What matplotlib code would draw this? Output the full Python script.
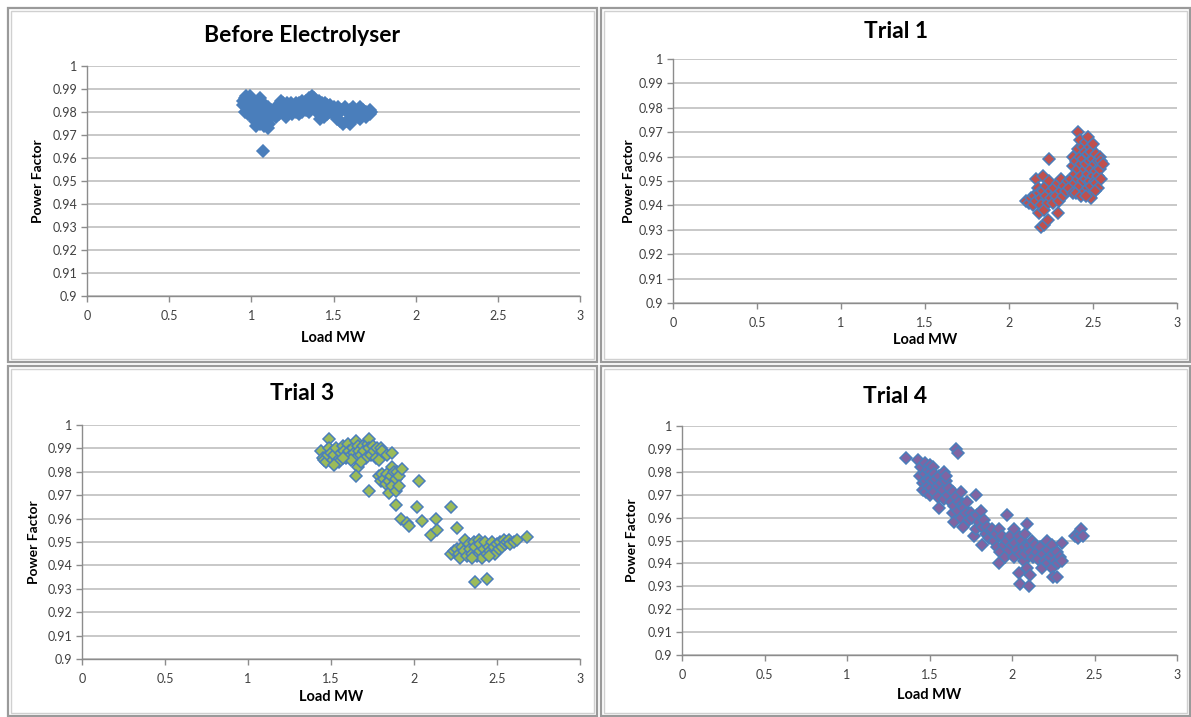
# Power factor vs load for the four electrolyser runs (2x2 panel screenshot)

import matplotlib.pyplot as plt
from matplotlib.patches import Rectangle

W, H = 1191, 717

# ---- data (Load MW, Power Factor) ----
before_x = [0.95, 0.96, 0.97, 0.98, 0.99, 1.00, 0.95, 0.97, 0.99, 0.96, 0.98, 1.00, 1.01, 1.02, 0.97,
            1.05, 1.06, 1.04,
            1.01, 1.02, 1.03, 1.04, 1.05, 1.06, 1.07, 1.08, 1.09, 1.10, 1.11, 1.12, 1.03, 1.05, 1.07,
            1.09, 1.10, 1.12, 1.14, 1.15, 1.16, 1.17, 1.18, 1.19, 1.20, 1.21, 1.22, 1.23, 1.24, 1.25,
            1.26, 1.27, 1.28, 1.29, 1.30, 1.31, 1.32, 1.33, 1.34, 1.35, 1.36, 1.37, 1.38, 1.39, 1.40,
            1.41, 1.42, 1.43, 1.44, 1.45, 1.46, 1.47, 1.48, 1.49, 1.50, 1.52, 1.53, 1.55, 1.57, 1.58,
            1.60, 1.62, 1.64, 1.66, 1.68, 1.70, 1.72, 1.73,
            1.15, 1.17, 1.19, 1.21, 1.23, 1.25, 1.27, 1.29, 1.31, 1.33, 1.35, 1.37, 1.39, 1.41, 1.42,
            1.44, 1.46, 1.48, 1.50, 1.52, 1.54, 1.56, 1.58, 1.60, 1.62, 1.64, 1.66, 1.68, 1.70, 1.72,
            1.07]
before_y = [0.985, 0.986, 0.987, 0.986, 0.987, 0.986, 0.983, 0.982, 0.983, 0.980, 0.979, 0.981, 0.984, 0.982, 0.984,
            0.986, 0.985, 0.984,
            0.978, 0.976, 0.974, 0.977, 0.975, 0.978, 0.976, 0.974, 0.977, 0.973, 0.975, 0.978, 0.980, 0.979, 0.981,
            0.980, 0.982, 0.981, 0.979, 0.981, 0.983, 0.982, 0.985, 0.984, 0.983, 0.981, 0.984, 0.982, 0.984, 0.983,
            0.981, 0.984, 0.982, 0.984, 0.983, 0.985, 0.983, 0.985, 0.984, 0.986, 0.985, 0.987, 0.986, 0.985, 0.984,
            0.985, 0.983, 0.984, 0.982, 0.984, 0.983, 0.982, 0.983, 0.981, 0.982, 0.980, 0.982, 0.981, 0.982, 0.980,
            0.981, 0.982, 0.980, 0.982, 0.981, 0.980, 0.981, 0.980,
            0.978, 0.979, 0.980, 0.978, 0.980, 0.979, 0.980, 0.979, 0.980, 0.981, 0.980, 0.982, 0.981, 0.979, 0.977,
            0.978, 0.979, 0.980, 0.979, 0.977, 0.976, 0.975, 0.976, 0.975, 0.977, 0.978, 0.977, 0.979, 0.978, 0.979,
            0.963]

trial1_x = [2.10, 2.12, 2.13, 2.14, 2.15, 2.16, 2.16, 2.17, 2.18, 2.18, 2.19, 2.19, 2.20, 2.20, 2.21, 2.22,
            2.22, 2.23, 2.24, 2.24, 2.25, 2.25, 2.26, 2.27, 2.28, 2.29, 2.29, 2.30, 2.31, 2.31, 2.32, 2.33,
            2.34, 2.35, 2.36, 2.37, 2.38,
            2.19, 2.21, 2.23,
            2.38, 2.38, 2.39, 2.39, 2.40, 2.40, 2.41, 2.41, 2.41, 2.41, 2.42, 2.42, 2.42, 2.43, 2.43, 2.43,
            2.44, 2.44, 2.44, 2.45, 2.45, 2.45, 2.46, 2.46, 2.46, 2.47, 2.47, 2.47, 2.47, 2.48, 2.48, 2.48,
            2.48, 2.49, 2.49, 2.49, 2.50, 2.50, 2.50, 2.51, 2.51, 2.52, 2.52, 2.52, 2.53, 2.53, 2.54, 2.54,
            2.55, 2.55, 2.56, 2.53, 2.51, 2.49, 2.46]
trial1_y = [0.942, 0.941, 0.943, 0.940, 0.944, 0.942, 0.951, 0.947, 0.945, 0.937, 0.943, 0.940, 0.952, 0.946, 0.938, 0.944,
            0.948, 0.941, 0.950, 0.959, 0.946, 0.943, 0.941, 0.947, 0.944, 0.949, 0.937, 0.942, 0.946, 0.951, 0.944, 0.948,
            0.946, 0.950, 0.947, 0.951, 0.945,
            0.931, 0.932, 0.934,
            0.956, 0.960, 0.953, 0.949, 0.958, 0.945, 0.970, 0.963, 0.955, 0.951, 0.967, 0.960, 0.948, 0.957, 0.952, 0.944,
            0.964, 0.959, 0.950, 0.962, 0.955, 0.946, 0.966, 0.957, 0.951, 0.968, 0.961, 0.953, 0.947, 0.964, 0.958, 0.950,
            0.944, 0.962, 0.955, 0.948, 0.965, 0.959, 0.952, 0.957, 0.950, 0.961, 0.954, 0.949, 0.958, 0.952, 0.960, 0.955,
            0.958, 0.951, 0.957, 0.947, 0.946, 0.943, 0.944]

trial3_x = [1.44, 1.45, 1.46, 1.47, 1.48, 1.49, 1.49, 1.50, 1.51, 1.52, 1.53, 1.54, 1.55, 1.56, 1.57, 1.58,
            1.59, 1.60, 1.61, 1.62, 1.63, 1.64, 1.65, 1.65, 1.66, 1.67, 1.68, 1.69, 1.70, 1.71, 1.72, 1.73,
            1.73, 1.74, 1.75, 1.76, 1.77, 1.78, 1.79, 1.80, 1.81, 1.84, 1.87, 1.66, 1.68, 1.62, 1.57, 1.52,
            1.65, 1.73, 1.79, 1.80, 1.81, 1.82, 1.83, 1.84, 1.85, 1.85, 1.86, 1.87, 1.87, 1.88, 1.89, 1.89,
            1.90, 1.91, 1.91, 1.93, 1.89, 1.92, 1.96, 1.97, 2.03, 2.02, 2.05, 2.10, 2.13, 2.14, 2.22, 2.26,
            2.22, 2.24, 2.26, 2.27, 2.28, 2.29, 2.30, 2.31, 2.32, 2.33, 2.34, 2.35, 2.36, 2.37, 2.38, 2.39,
            2.40, 2.40, 2.41, 2.42, 2.43, 2.44, 2.45, 2.46, 2.47, 2.48, 2.49, 2.50, 2.51, 2.52, 2.53, 2.54,
            2.55, 2.56, 2.57, 2.58, 2.60, 2.62, 2.68, 2.37, 2.44, 2.35, 2.45]
trial3_y = [0.989, 0.986, 0.985, 0.984, 0.987, 0.994, 0.990, 0.988, 0.985, 0.987, 0.990, 0.985, 0.984, 0.988, 0.991, 0.989,
            0.986, 0.992, 0.989, 0.987, 0.990, 0.988, 0.993, 0.986, 0.991, 0.989, 0.987, 0.991, 0.989, 0.986, 0.992, 0.994,
            0.990, 0.987, 0.991, 0.989, 0.986, 0.990, 0.985, 0.990, 0.989, 0.987, 0.988, 0.982, 0.984, 0.985, 0.986, 0.983,
            0.978, 0.972, 0.978, 0.976, 0.979, 0.977, 0.975, 0.979, 0.976, 0.971, 0.978, 0.982, 0.974, 0.980, 0.977, 0.972,
            0.980, 0.978, 0.974, 0.981, 0.966, 0.960, 0.958, 0.957, 0.976, 0.965, 0.959, 0.953, 0.960, 0.955, 0.965, 0.956,
            0.945, 0.946, 0.947, 0.945, 0.943, 0.948, 0.946, 0.951, 0.944, 0.949, 0.947, 0.945, 0.950, 0.948, 0.944, 0.951,
            0.946, 0.949, 0.943, 0.947, 0.950, 0.945, 0.948, 0.946, 0.950, 0.948, 0.945, 0.949, 0.947, 0.950, 0.948, 0.951,
            0.949, 0.950, 0.951, 0.949, 0.950, 0.951, 0.952, 0.933, 0.934, 0.943, 0.944]

trial4_x = [1.36, 1.43, 1.44, 1.45, 1.46, 1.46, 1.47, 1.47, 1.48, 1.48, 1.49, 1.49, 1.50, 1.50, 1.50, 1.51,
            1.51, 1.52, 1.52, 1.53, 1.53, 1.54, 1.55, 1.55, 1.56, 1.56, 1.57, 1.58, 1.59, 1.59, 1.60, 1.60,
            1.61, 1.62, 1.63, 1.64, 1.64, 1.65, 1.65, 1.66, 1.66, 1.67, 1.67, 1.68, 1.69, 1.69, 1.70, 1.70,
            1.71, 1.72, 1.73, 1.74, 1.75, 1.76, 1.77, 1.78, 1.78, 1.79, 1.80, 1.81, 1.82, 1.82, 1.83, 1.84,
            1.85, 1.86, 1.87, 1.88, 1.89, 1.90, 1.91, 1.92, 1.92, 1.93, 1.94, 1.95, 1.96, 1.97, 1.97, 1.98,
            1.99, 2.00, 2.01, 2.01, 2.02, 2.03, 2.04, 2.04, 2.05, 2.05, 2.06, 2.07, 2.07, 2.08, 2.08, 2.09,
            2.09, 2.10, 2.10, 2.11, 2.11, 2.12, 2.13, 2.14, 2.15, 2.16, 2.17, 2.18, 2.19, 2.20, 2.21, 2.22,
            2.22, 2.23, 2.24, 2.24, 2.25, 2.25, 2.26, 2.27, 2.27, 2.28, 2.29, 2.30, 2.30, 2.38, 2.40, 2.41,
            2.42, 2.43]
trial4_y = [0.986, 0.985, 0.978, 0.982, 0.975, 0.972, 0.984, 0.979, 0.976, 0.971, 0.981, 0.974, 0.983, 0.977, 0.970, 0.980,
            0.973, 0.982, 0.976, 0.979, 0.971, 0.977, 0.974, 0.969, 0.964, 0.978, 0.975, 0.972, 0.980, 0.968, 0.976, 0.978,
            0.970, 0.973, 0.967, 0.962, 0.971, 0.958, 0.965, 0.990, 0.969, 0.988, 0.963, 0.967, 0.971, 0.960, 0.956, 0.966,
            0.964, 0.962, 0.967, 0.959, 0.962, 0.960, 0.952, 0.970, 0.955, 0.961, 0.958, 0.963, 0.948, 0.956, 0.959, 0.953,
            0.956, 0.951, 0.954, 0.955, 0.950, 0.953, 0.947, 0.940, 0.955, 0.945, 0.952, 0.948, 0.943, 0.961, 0.950, 0.946,
            0.952, 0.948, 0.955, 0.943, 0.949, 0.946, 0.952, 0.936, 0.931, 0.944, 0.950, 0.947, 0.941, 0.953, 0.944, 0.957,
            0.938, 0.930, 0.948, 0.935, 0.945, 0.950, 0.943, 0.948, 0.945, 0.942, 0.947, 0.938, 0.944, 0.941, 0.950, 0.946,
            0.940, 0.943, 0.948, 0.938, 0.934, 0.944, 0.941, 0.934, 0.945, 0.940, 0.943, 0.941, 0.949, 0.952, 0.951, 0.953,
            0.955, 0.952]

x_ticks = [0, 0.5, 1, 1.5, 2, 2.5, 3]
x_labels = ['0', '0.5', '1', '1.5', '2', '2.5', '3']
y_ticks = [0.9, 0.91, 0.92, 0.93, 0.94, 0.95, 0.96, 0.97, 0.98, 0.99, 1.0]
y_labels = ['0.9', '0.91', '0.92', '0.93', '0.94', '0.95', '0.96', '0.97', '0.98', '0.99', '1']

plt.rcParams['font.family'] = ['Lato', 'DejaVu Sans']

BLUE = '#4a7ebb'
GRID = '#c4c4c4'
AXIS = '#8c8c8c'
TXT = '#404040'

fig = plt.figure(figsize=(W / 100, H / 100), dpi=100)
fig.patch.set_facecolor('white')


def px_rect(left, top, right, bottom):
    return [left / W, 1 - bottom / H, (right - left) / W, (bottom - top) / H]


# panel frames (screenshot of four separate charts)
frames = [(8, 8, 597, 362), (601, 8, 1190, 362), (8, 366, 597, 716), (601, 366, 1190, 716)]
for (l, t, r, b) in frames:
    fig.add_artist(Rectangle((l / W, 1 - b / H), (r - l) / W, (b - t) / H, transform=fig.transFigure,
                             fill=False, edgecolor='#9a9a9a', linewidth=1.6))
    fig.add_artist(Rectangle(((l + 3) / W, 1 - (b - 3) / H), (r - l - 6) / W, (b - t - 6) / H,
                             transform=fig.transFigure, fill=False, edgecolor='#d0d0d0', linewidth=1.0))

panels = [
    # title, x, y, face, edge, axes box (px), title y, xlabel y, ylabel x
    ('Before Electrolyser', before_x, before_y, BLUE, BLUE, (87, 66, 580, 296), 35, 338, 38),
    ('Trial 1', trial1_x, trial1_y, '#c0504d', BLUE, (673, 59, 1177, 303), 31, 340, 629),
    ('Trial 3', trial3_x, trial3_y, '#9bbb59', BLUE, (82, 425, 580, 659), 394, 697, 34),
    ('Trial 4', trial4_x, trial4_y, '#8064a2', BLUE, (682, 426, 1177, 655), 397, 695, 632),
]

for (title, xs, ys, face, edge, box, ty, xly, ylx), frame in zip(panels, frames):
    ax = fig.add_axes(px_rect(*box))
    ax.plot(xs, ys, linestyle='none', marker='D', markersize=6.4,
            markerfacecolor=face, markeredgecolor=edge, markeredgewidth=1.1, zorder=3)

    ax.set_xlim(0, 3)
    ax.set_ylim(0.9, 1.0)
    ax.set_xticks(x_ticks)
    ax.set_xticklabels(x_labels)
    ax.set_yticks(y_ticks)
    ax.set_yticklabels(y_labels)
    ax.grid(axis='y', color=GRID, linewidth=1.3)
    ax.set_axisbelow(True)
    for side in ['top', 'right']:
        ax.spines[side].set_visible(False)
    for side in ['left', 'bottom']:
        ax.spines[side].set_color(AXIS)
        ax.spines[side].set_linewidth(1.0)
    ax.tick_params(axis='both', colors=AXIS, labelcolor=TXT, labelsize=9, length=4, width=1.0)
    ax.tick_params(axis='x', pad=6)
    ax.tick_params(axis='y', pad=3)

    cx = (box[0] + box[2]) / 2
    cy = (box[1] + box[3]) / 2
    fx = (frame[0] + frame[2]) / 2
    fig.text(fx / W, 1 - ty / H, title, ha='center', va='center', fontsize=16.5, fontweight='bold', color='black')
    fig.text(cx / W, 1 - xly / H, 'Load MW', ha='center', va='center', fontsize=10.5, fontweight='bold', color='black')
    fig.text(ylx / W, 1 - cy / H, 'Power Factor', ha='center', va='center', rotation=90,
             fontsize=10, fontweight='bold', color='black')

plt.savefig('out.png', dpi=100)
